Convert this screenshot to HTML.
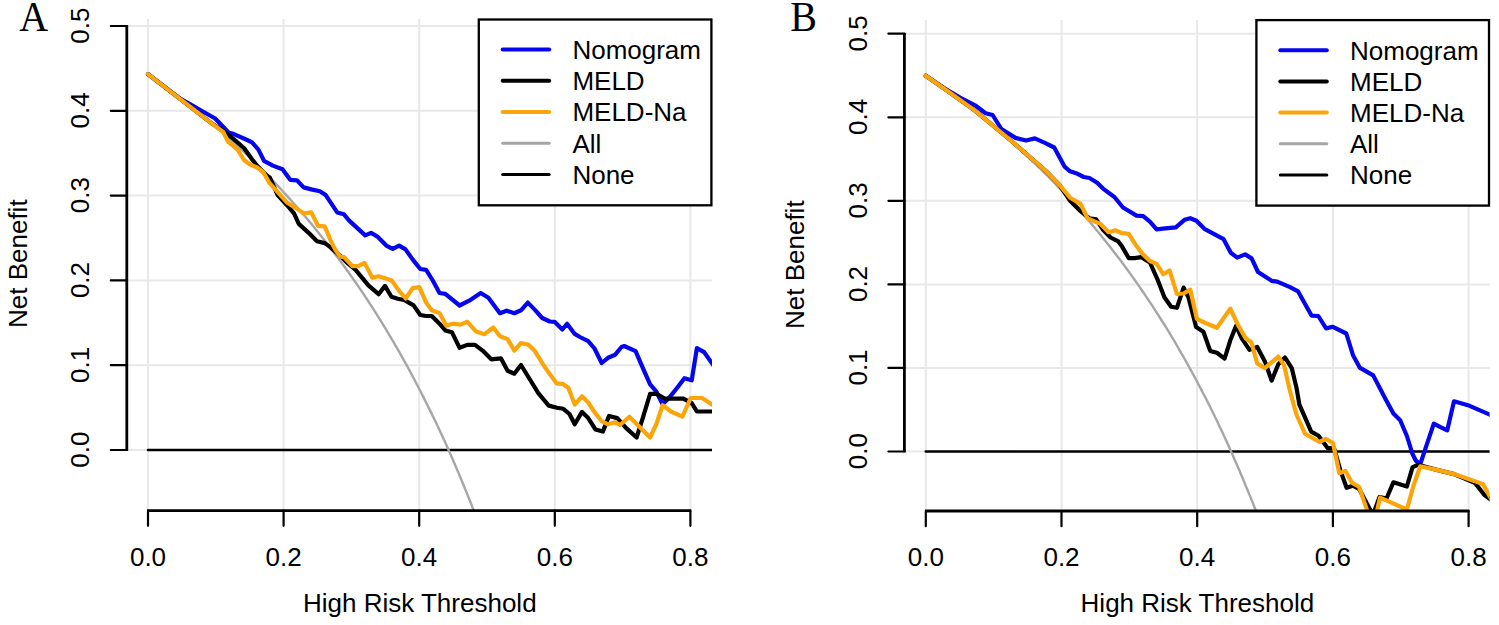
<!DOCTYPE html>
<html><head><meta charset="utf-8"><title>Decision curves</title>
<style>html,body{margin:0;padding:0;background:#fff;}svg{display:block;}</style>
</head><body>
<svg width="1499" height="625" viewBox="0 0 1499 625">
<rect width="100%" height="100%" fill="#fff"/>
<clipPath id="clipA"><rect x="127.0" y="19.0" width="585.0" height="491.6"/></clipPath>
<path d="M148.0 19.0V510.6M283.6 19.0V510.6M419.2 19.0V510.6M554.8 19.0V510.6M690.4 19.0V510.6M127.0 450.0H712.0M127.0 365.2H712.0M127.0 280.4H712.0M127.0 195.6H712.0M127.0 110.8H712.0M127.0 26.0H712.0" stroke="#e8e8e8" stroke-width="2" fill="none"/>
<g clip-path="url(#clipA)" fill="none" stroke-linejoin="round" stroke-linecap="round">
<path d="M148.0 450.0H717.0" stroke="#000" stroke-width="2.6"/>
<polyline points="148.0,74.1 150.2,75.6 152.4,77.2 154.6,78.7 156.8,80.3 159.0,81.9 161.2,83.5 163.4,85.1 165.6,86.7 167.8,88.3 170.0,89.9 172.2,91.6 174.4,93.2 176.6,94.9 178.8,96.6 181.1,98.3 183.3,100.0 185.5,101.7 187.7,103.4 189.9,105.2 192.1,106.9 194.3,108.7 196.5,110.4 198.7,112.2 200.9,114.0 203.1,115.8 205.3,117.7 207.5,119.5 209.7,121.3 211.9,123.2 214.1,125.1 216.3,127.0 218.5,128.9 220.7,130.8 222.9,132.7 225.1,134.7 227.3,136.6 229.5,138.6 231.7,140.6 233.9,142.6 236.1,144.6 238.3,146.7 240.5,148.7 242.8,150.8 245.0,152.9 247.2,155.0 249.4,157.1 251.6,159.2 253.8,161.3 256.0,163.5 258.2,165.7 260.4,167.9 262.6,170.1 264.8,172.3 267.0,174.6 269.2,176.8 271.4,179.1 273.6,181.4 275.8,183.7 278.0,186.1 280.2,188.4 282.4,190.8 284.6,193.2 286.8,195.6 289.0,198.1 291.2,200.5 293.4,203.0 295.6,205.5 297.8,208.0 300.0,210.5 302.2,213.1 304.4,215.7 306.7,218.3 308.9,220.9 311.1,223.6 313.3,226.2 315.5,228.9 317.7,231.7 319.9,234.4 322.1,237.2 324.3,239.9 326.5,242.8 328.7,245.6 330.9,248.5 333.1,251.4 335.3,254.3 337.5,257.2 339.7,260.2 341.9,263.2 344.1,266.2 346.3,269.3 348.5,272.3 350.7,275.4 352.9,278.6 355.1,281.7 357.3,284.9 359.5,288.2 361.7,291.4 363.9,294.7 366.1,298.0 368.4,301.4 370.6,304.8 372.8,308.2 375.0,311.6 377.2,315.1 379.4,318.6 381.6,322.2 383.8,325.8 386.0,329.4 388.2,333.1 390.4,336.8 392.6,340.5 394.8,344.3 397.0,348.1 399.2,351.9 401.4,355.8 403.6,359.8 405.8,363.7 408.0,367.7 410.2,371.8 412.4,375.9 414.6,380.0 416.8,384.2 419.0,388.5 421.2,392.8 423.4,397.1 425.6,401.5 427.8,405.9 430.0,410.4 432.3,414.9 434.5,419.5 436.7,424.1 438.9,428.8 441.1,433.5 443.3,438.3 445.5,443.1 447.7,448.0 449.9,453.0 452.1,458.0 454.3,463.1 456.5,468.2 458.7,473.4 460.9,478.7 463.1,484.0 465.3,489.4 467.5,494.8 469.7,500.3 471.9,505.9 474.1,511.6 476.3,517.3" stroke="#a6a6a6" stroke-width="2.4"/>
<polyline points="148.0,74.2 180.0,98.6 190.0,104.2 202.4,111.3 215.2,118.5 228.8,132.8 232.8,133.6 247.2,140.0 252.0,142.4 258.4,149.6 264.0,160.8 272.8,165.6 282.5,169.2 290.2,179.8 296.9,180.3 303.6,187.4 311.3,189.4 319.9,191.3 325.7,195.1 337.2,212.4 343.9,214.3 349.2,220.6 365.2,235.4 371.0,232.8 377.4,236.6 386.3,245.6 392.7,248.8 399.1,245.6 405.5,249.4 412.6,259.4 420.3,269.0 426.1,269.9 432.8,280.5 439.5,293.0 445.3,293.9 459.6,305.5 469.2,300.7 480.7,293.0 488.4,297.8 499.9,313.2 506.6,310.7 514.3,313.2 521.0,310.3 527.8,302.6 534.5,309.4 542.2,318.0 549.8,321.5 554.6,321.8 562.3,329.5 567.1,323.8 574.7,333.9 579.9,337.0 588.2,341.2 594.5,348.5 601.7,363.0 608.0,357.8 615.2,354.7 621.5,347.0 624.2,346.0 635.6,351.2 641.8,365.7 650.1,384.4 656.4,391.7 662.6,404.2 669.9,396.9 678.2,386.5 684.4,378.2 691.7,380.3 696.9,348.1 704.2,352.2 711.5,362.6 716.0,369.0" stroke="#0606ee" stroke-width="4.2"/>
<polyline points="148.0,74.2 180.0,98.8 212.0,123.6 223.2,131.0 232.8,138.4 244.0,148.0 252.0,159.2 256.8,165.6 266.4,175.2 270.0,177.8 277.7,195.1 289.2,207.6 294.0,213.4 298.8,223.9 308.4,232.6 317.0,241.2 324.7,243.1 330.0,246.9 340.2,255.8 347.9,263.5 355.6,269.9 362.0,277.6 368.4,285.3 378.6,294.2 385.0,285.9 391.4,296.8 397.8,298.7 404.2,300.0 408.8,302.6 413.6,305.4 420.3,315.0 426.1,316.0 431.8,316.0 439.5,323.7 445.3,330.4 452.0,332.3 459.6,347.8 467.3,344.9 475.0,344.9 482.6,350.6 491.3,359.3 500.9,358.3 507.6,370.8 514.3,373.7 521.0,365.0 528.7,377.5 538.3,393.2 548.7,405.6 557.0,407.7 563.3,408.8 569.5,414.0 574.7,424.3 582.0,411.9 588.2,418.1 595.5,429.5 602.8,431.6 609.0,416.0 617.3,418.1 626.2,428.1 636.6,437.5 642.9,417.7 650.1,393.8 656.4,393.8 664.7,398.6 683.4,398.6 691.7,403.2 696.9,411.5 711.5,411.5 716.0,411.5" stroke="#000" stroke-width="4.2"/>
<polyline points="148.0,74.2 180.0,98.8 212.0,123.6 223.2,132.0 228.0,141.6 232.8,145.6 237.6,149.6 244.0,160.0 250.4,164.8 256.8,167.2 263.2,172.0 269.6,183.2 277.7,192.2 287.3,202.8 296.9,208.6 303.6,213.4 311.3,212.4 318.0,225.8 324.7,226.4 331.4,242.2 335.1,249.4 340.2,256.5 344.1,257.1 352.4,266.1 358.2,266.1 364.6,262.9 372.2,277.6 378.6,276.3 391.4,280.2 399.5,291.3 405.7,298.4 412.6,288.2 419.4,287.2 426.1,302.6 431.8,310.2 439.5,313.1 446.2,325.6 453.0,323.7 460.6,324.6 467.4,321.8 476.0,331.4 484.6,334.2 493.3,327.5 500.0,336.2 507.6,339.1 514.3,350.6 521.0,343.0 528.7,344.9 534.5,350.6 544.1,366.0 550.8,375.6 556.6,383.3 563.3,384.2 568.5,388.0 574.7,404.6 582.0,396.3 588.2,402.5 594.4,411.9 601.7,421.2 608.0,424.3 615.2,422.3 620.0,425.0 629.4,416.7 638.7,426.0 650.1,437.5 656.4,424.0 662.6,405.2 670.9,411.5 682.4,416.7 690.7,398.0 702.1,398.0 711.5,404.2 716.0,407.0" stroke="#fca50a" stroke-width="4.2"/>
</g>
<path d="M126.8 450.8V25.2M147.2 510.6H691.2" stroke="#000" stroke-width="2.8" fill="none" stroke-linecap="butt"/>
<path d="M110.8 450.0H127.0M110.8 365.2H127.0M110.8 280.4H127.0M110.8 195.6H127.0M110.8 110.8H127.0M110.8 26.0H127.0M148.0 510.6V525.8M283.6 510.6V525.8M419.2 510.6V525.8M554.8 510.6V525.8M690.4 510.6V525.8" stroke="#000" stroke-width="2.2" fill="none" stroke-linecap="round"/>
<text x="89.2" y="449.6" font-size="26.0" text-anchor="middle" font-family='"Liberation Sans", sans-serif' transform="rotate(-90 89.2 449.6)">0.0</text>
<text x="89.2" y="364.8" font-size="26.0" text-anchor="middle" font-family='"Liberation Sans", sans-serif' transform="rotate(-90 89.2 364.8)">0.1</text>
<text x="89.2" y="280.0" font-size="26.0" text-anchor="middle" font-family='"Liberation Sans", sans-serif' transform="rotate(-90 89.2 280.0)">0.2</text>
<text x="89.2" y="195.2" font-size="26.0" text-anchor="middle" font-family='"Liberation Sans", sans-serif' transform="rotate(-90 89.2 195.2)">0.3</text>
<text x="89.2" y="110.4" font-size="26.0" text-anchor="middle" font-family='"Liberation Sans", sans-serif' transform="rotate(-90 89.2 110.4)">0.4</text>
<text x="89.2" y="25.6" font-size="26.0" text-anchor="middle" font-family='"Liberation Sans", sans-serif' transform="rotate(-90 89.2 25.6)">0.5</text>
<text x="148.0" y="566.3" font-size="26.0" text-anchor="middle" font-family='"Liberation Sans", sans-serif'>0.0</text>
<text x="283.6" y="566.3" font-size="26.0" text-anchor="middle" font-family='"Liberation Sans", sans-serif'>0.2</text>
<text x="419.2" y="566.3" font-size="26.0" text-anchor="middle" font-family='"Liberation Sans", sans-serif'>0.4</text>
<text x="554.8" y="566.3" font-size="26.0" text-anchor="middle" font-family='"Liberation Sans", sans-serif'>0.6</text>
<text x="690.4" y="566.3" font-size="26.0" text-anchor="middle" font-family='"Liberation Sans", sans-serif'>0.8</text>
<text x="419.8" y="611.8" font-size="26.0" text-anchor="middle" font-family='"Liberation Sans", sans-serif'>High Risk Threshold</text>
<text x="27.0" y="263.7" font-size="26.0" text-anchor="middle" font-family='"Liberation Sans", sans-serif' transform="rotate(-90 27.0 263.7)">Net Benefit</text>
<g transform="translate(19.2 30.8) scale(0.93 1)"><text x="0.0" y="0.0" font-size="43.0" text-anchor="start" font-family='"Liberation Serif", serif'>A</text></g>
<rect x="478.8" y="19.5" width="232.6" height="185.8" fill="#fff" stroke="#000" stroke-width="2.3"/>
<path d="M502.7 49.6H549.2" stroke="#0606ee" stroke-width="4" stroke-linecap="round"/>
<text x="572.4" y="59.0" font-size="26.0" text-anchor="start" font-family='"Liberation Sans", sans-serif'>Nomogram</text>
<path d="M502.7 80.8H549.2" stroke="#000" stroke-width="4" stroke-linecap="round"/>
<text x="572.4" y="90.2" font-size="26.0" text-anchor="start" font-family='"Liberation Sans", sans-serif'>MELD</text>
<path d="M502.7 112.0H549.2" stroke="#fca50a" stroke-width="4" stroke-linecap="round"/>
<text x="572.4" y="121.4" font-size="26.0" text-anchor="start" font-family='"Liberation Sans", sans-serif'>MELD-Na</text>
<path d="M502.7 143.2H549.2" stroke="#a6a6a6" stroke-width="3" stroke-linecap="round"/>
<text x="572.4" y="152.6" font-size="26.0" text-anchor="start" font-family='"Liberation Sans", sans-serif'>All</text>
<path d="M502.7 174.4H549.2" stroke="#000" stroke-width="3" stroke-linecap="round"/>
<text x="572.4" y="183.8" font-size="26.0" text-anchor="start" font-family='"Liberation Sans", sans-serif'>None</text>
<clipPath id="clipB"><rect x="904.6" y="20.0" width="585.0" height="491.0"/></clipPath>
<path d="M925.8 20.0V511.0M1061.5 20.0V511.0M1197.2 20.0V511.0M1332.9 20.0V511.0M1468.6 20.0V511.0M904.6 451.5H1489.6M904.6 367.9H1489.6M904.6 284.4H1489.6M904.6 200.8H1489.6M904.6 117.3H1489.6M904.6 33.7H1489.6" stroke="#e8e8e8" stroke-width="2" fill="none"/>
<g clip-path="url(#clipB)" fill="none" stroke-linejoin="round" stroke-linecap="round">
<path d="M925.8 451.5H1494.6" stroke="#000" stroke-width="2.6"/>
<polyline points="925.8,75.5 928.0,77.0 930.2,78.5 932.4,80.0 934.6,81.5 936.8,83.1 939.0,84.6 941.2,86.2 943.4,87.7 945.6,89.3 947.9,90.9 950.1,92.5 952.3,94.1 954.5,95.8 956.7,97.4 958.9,99.0 961.1,100.7 963.3,102.4 965.5,104.0 967.7,105.7 969.9,107.4 972.1,109.1 974.3,110.9 976.5,112.6 978.7,114.4 980.9,116.1 983.1,117.9 985.3,119.7 987.5,121.5 989.7,123.3 992.0,125.1 994.2,127.0 996.4,128.8 998.6,130.7 1000.8,132.6 1003.0,134.5 1005.2,136.4 1007.4,138.3 1009.6,140.2 1011.8,142.2 1014.0,144.2 1016.2,146.1 1018.4,148.1 1020.6,150.1 1022.8,152.2 1025.0,154.2 1027.2,156.3 1029.4,158.3 1031.6,160.4 1033.9,162.5 1036.1,164.7 1038.3,166.8 1040.5,168.9 1042.7,171.1 1044.9,173.3 1047.1,175.5 1049.3,177.7 1051.5,180.0 1053.7,182.2 1055.9,184.5 1058.1,186.8 1060.3,189.1 1062.5,191.5 1064.7,193.8 1066.9,196.2 1069.1,198.6 1071.3,201.0 1073.5,203.4 1075.7,205.9 1078.0,208.3 1080.2,210.8 1082.4,213.3 1084.6,215.9 1086.8,218.4 1089.0,221.0 1091.2,223.6 1093.4,226.2 1095.6,228.9 1097.8,231.5 1100.0,234.2 1102.2,237.0 1104.4,239.7 1106.6,242.5 1108.8,245.2 1111.0,248.1 1113.2,250.9 1115.4,253.8 1117.6,256.7 1119.9,259.6 1122.1,262.5 1124.3,265.5 1126.5,268.5 1128.7,271.5 1130.9,274.6 1133.1,277.6 1135.3,280.8 1137.5,283.9 1139.7,287.1 1141.9,290.3 1144.1,293.5 1146.3,296.8 1148.5,300.1 1150.7,303.4 1152.9,306.7 1155.1,310.1 1157.3,313.6 1159.5,317.0 1161.7,320.5 1164.0,324.0 1166.2,327.6 1168.4,331.2 1170.6,334.8 1172.8,338.5 1175.0,342.2 1177.2,346.0 1179.4,349.8 1181.6,353.6 1183.8,357.5 1186.0,361.4 1188.2,365.3 1190.4,369.3 1192.6,373.3 1194.8,377.4 1197.0,381.5 1199.2,385.7 1201.4,389.9 1203.6,394.2 1205.9,398.5 1208.1,402.9 1210.3,407.3 1212.5,411.7 1214.7,416.2 1216.9,420.8 1219.1,425.4 1221.3,430.0 1223.5,434.8 1225.7,439.5 1227.9,444.3 1230.1,449.2 1232.3,454.2 1234.5,459.2 1236.7,464.2 1238.9,469.3 1241.1,474.5 1243.3,479.8 1245.5,485.1 1247.7,490.5 1250.0,495.9 1252.2,501.4 1254.4,507.0 1256.6,512.6 1258.8,518.4" stroke="#a6a6a6" stroke-width="2.4"/>
<polyline points="925.8,75.8 944.0,88.0 960.0,97.5 975.0,105.3 985.6,113.2 992.6,115.0 1001.4,129.0 1015.5,137.9 1026.0,140.5 1034.9,138.4 1045.4,143.1 1054.2,147.5 1064.8,166.9 1070.1,171.3 1076.1,173.2 1083.8,177.0 1089.5,178.0 1097.2,182.8 1103.0,188.6 1114.4,197.0 1123.0,207.5 1136.5,215.6 1143.2,216.2 1149.9,221.7 1156.6,229.4 1165.3,228.4 1175.8,227.4 1184.5,219.8 1190.2,218.2 1196.4,220.8 1204.4,228.8 1223.6,239.2 1230.8,252.8 1237.2,257.6 1245.2,254.4 1251.6,258.4 1258.0,272.0 1271.6,280.8 1277.2,281.6 1290.0,287.2 1298.1,291.4 1311.5,315.6 1318.3,316.0 1326.1,328.4 1332.8,326.8 1346.3,333.5 1353.0,355.2 1359.7,367.6 1373.2,375.4 1385.5,399.0 1393.4,413.6 1400.2,420.3 1406.9,436.0 1412.5,454.0 1415.9,460.7 1420.3,464.0 1425.9,447.2 1433.8,423.7 1440.5,427.1 1447.2,430.4 1454.0,401.3 1469.6,405.8 1489.8,414.7 1494.0,417.0" stroke="#0606ee" stroke-width="4.2"/>
<polyline points="925.8,75.8 944.0,88.5 975.0,110.6 1010.2,140.0 1045.4,170.5 1059.5,185.0 1070.3,201.0 1079.9,210.6 1089.5,218.3 1096.2,219.3 1103.0,229.8 1110.6,237.5 1118.3,241.4 1122.1,246.6 1128.8,258.2 1134.6,258.2 1141.3,257.2 1149.9,262.5 1157.7,279.9 1164.4,297.2 1171.1,306.8 1176.9,307.8 1183.6,287.6 1188.4,297.2 1196.1,327.0 1203.4,331.7 1210.2,350.9 1216.9,352.8 1224.6,358.6 1230.3,340.3 1236.1,325.9 1241.8,338.4 1249.5,349.9 1257.2,347.0 1264.9,361.4 1271.6,380.6 1278.3,364.3 1285.0,357.6 1291.8,368.2 1296.6,388.3 1299.4,404.6 1311.2,431.6 1318.5,435.8 1327.8,448.2 1334.1,448.2 1340.3,470.1 1346.6,487.8 1352.8,485.7 1359.0,488.8 1373.0,515.0 1379.5,497.0 1386.5,498.5 1393.4,482.3 1406.9,486.5 1412.5,467.4 1418.1,464.7 1436.0,469.6 1454.0,474.1 1475.2,483.1 1484.2,494.8 1492.0,500.5" stroke="#000" stroke-width="4.2"/>
<polyline points="925.8,75.8 944.0,88.5 975.0,110.6 1010.2,140.0 1045.4,170.5 1059.5,185.0 1070.1,197.7 1080.6,203.9 1087.6,218.3 1096.2,222.2 1100.0,223.6 1108.6,232.2 1115.4,230.3 1122.1,233.2 1128.8,233.8 1135.5,244.7 1142.2,253.4 1149.9,261.0 1156.6,263.9 1163.4,274.3 1169.6,270.5 1176.9,294.0 1183.6,293.5 1190.3,289.6 1196.8,318.8 1205.4,323.0 1216.9,327.8 1230.3,308.6 1238.0,325.0 1245.7,338.4 1251.4,342.2 1257.2,363.4 1264.9,368.2 1278.3,356.6 1284.1,365.3 1289.8,390.2 1296.6,415.0 1305.0,433.7 1319.5,442.0 1325.8,438.9 1333.0,443.0 1339.3,473.2 1345.5,471.1 1351.8,482.6 1359.0,486.7 1373.1,528.0 1380.0,497.6 1406.9,509.5 1413.6,485.3 1420.3,466.3 1436.0,469.6 1454.0,474.1 1474.1,480.9 1483.1,484.2 1489.8,496.5 1493.0,502.0" stroke="#fca50a" stroke-width="4.2"/>
</g>
<path d="M904.4 452.3V32.9M925.0 511.0H1469.4" stroke="#000" stroke-width="2.8" fill="none" stroke-linecap="butt"/>
<path d="M888.4 451.5H904.6M888.4 367.9H904.6M888.4 284.4H904.6M888.4 200.8H904.6M888.4 117.3H904.6M888.4 33.7H904.6M925.8 511.0V526.2M1061.5 511.0V526.2M1197.2 511.0V526.2M1332.9 511.0V526.2M1468.6 511.0V526.2" stroke="#000" stroke-width="2.2" fill="none" stroke-linecap="round"/>
<text x="866.8" y="451.1" font-size="26.0" text-anchor="middle" font-family='"Liberation Sans", sans-serif' transform="rotate(-90 866.8 451.1)">0.0</text>
<text x="866.8" y="367.5" font-size="26.0" text-anchor="middle" font-family='"Liberation Sans", sans-serif' transform="rotate(-90 866.8 367.5)">0.1</text>
<text x="866.8" y="284.0" font-size="26.0" text-anchor="middle" font-family='"Liberation Sans", sans-serif' transform="rotate(-90 866.8 284.0)">0.2</text>
<text x="866.8" y="200.4" font-size="26.0" text-anchor="middle" font-family='"Liberation Sans", sans-serif' transform="rotate(-90 866.8 200.4)">0.3</text>
<text x="866.8" y="116.9" font-size="26.0" text-anchor="middle" font-family='"Liberation Sans", sans-serif' transform="rotate(-90 866.8 116.9)">0.4</text>
<text x="866.8" y="33.3" font-size="26.0" text-anchor="middle" font-family='"Liberation Sans", sans-serif' transform="rotate(-90 866.8 33.3)">0.5</text>
<text x="925.8" y="566.3" font-size="26.0" text-anchor="middle" font-family='"Liberation Sans", sans-serif'>0.0</text>
<text x="1061.5" y="566.3" font-size="26.0" text-anchor="middle" font-family='"Liberation Sans", sans-serif'>0.2</text>
<text x="1197.2" y="566.3" font-size="26.0" text-anchor="middle" font-family='"Liberation Sans", sans-serif'>0.4</text>
<text x="1332.9" y="566.3" font-size="26.0" text-anchor="middle" font-family='"Liberation Sans", sans-serif'>0.6</text>
<text x="1468.6" y="566.3" font-size="26.0" text-anchor="middle" font-family='"Liberation Sans", sans-serif'>0.8</text>
<text x="1197.4" y="611.8" font-size="26.0" text-anchor="middle" font-family='"Liberation Sans", sans-serif'>High Risk Threshold</text>
<text x="804.4" y="264.7" font-size="26.0" text-anchor="middle" font-family='"Liberation Sans", sans-serif' transform="rotate(-90 804.4 264.7)">Net Benefit</text>
<g transform="translate(790.2 31.0) scale(0.93 1)"><text x="0.0" y="0.0" font-size="43.0" text-anchor="start" font-family='"Liberation Serif", serif'>B</text></g>
<rect x="1256.4" y="20.1" width="232.6" height="185.5" fill="#fff" stroke="#000" stroke-width="2.3"/>
<path d="M1280.3 50.2H1326.8" stroke="#0606ee" stroke-width="4" stroke-linecap="round"/>
<text x="1350.0" y="59.6" font-size="26.0" text-anchor="start" font-family='"Liberation Sans", sans-serif'>Nomogram</text>
<path d="M1280.3 81.4H1326.8" stroke="#000" stroke-width="4" stroke-linecap="round"/>
<text x="1350.0" y="90.8" font-size="26.0" text-anchor="start" font-family='"Liberation Sans", sans-serif'>MELD</text>
<path d="M1280.3 112.6H1326.8" stroke="#fca50a" stroke-width="4" stroke-linecap="round"/>
<text x="1350.0" y="122.0" font-size="26.0" text-anchor="start" font-family='"Liberation Sans", sans-serif'>MELD-Na</text>
<path d="M1280.3 143.8H1326.8" stroke="#a6a6a6" stroke-width="3" stroke-linecap="round"/>
<text x="1350.0" y="153.2" font-size="26.0" text-anchor="start" font-family='"Liberation Sans", sans-serif'>All</text>
<path d="M1280.3 175.0H1326.8" stroke="#000" stroke-width="3" stroke-linecap="round"/>
<text x="1350.0" y="184.4" font-size="26.0" text-anchor="start" font-family='"Liberation Sans", sans-serif'>None</text>
</svg>
</body></html>
